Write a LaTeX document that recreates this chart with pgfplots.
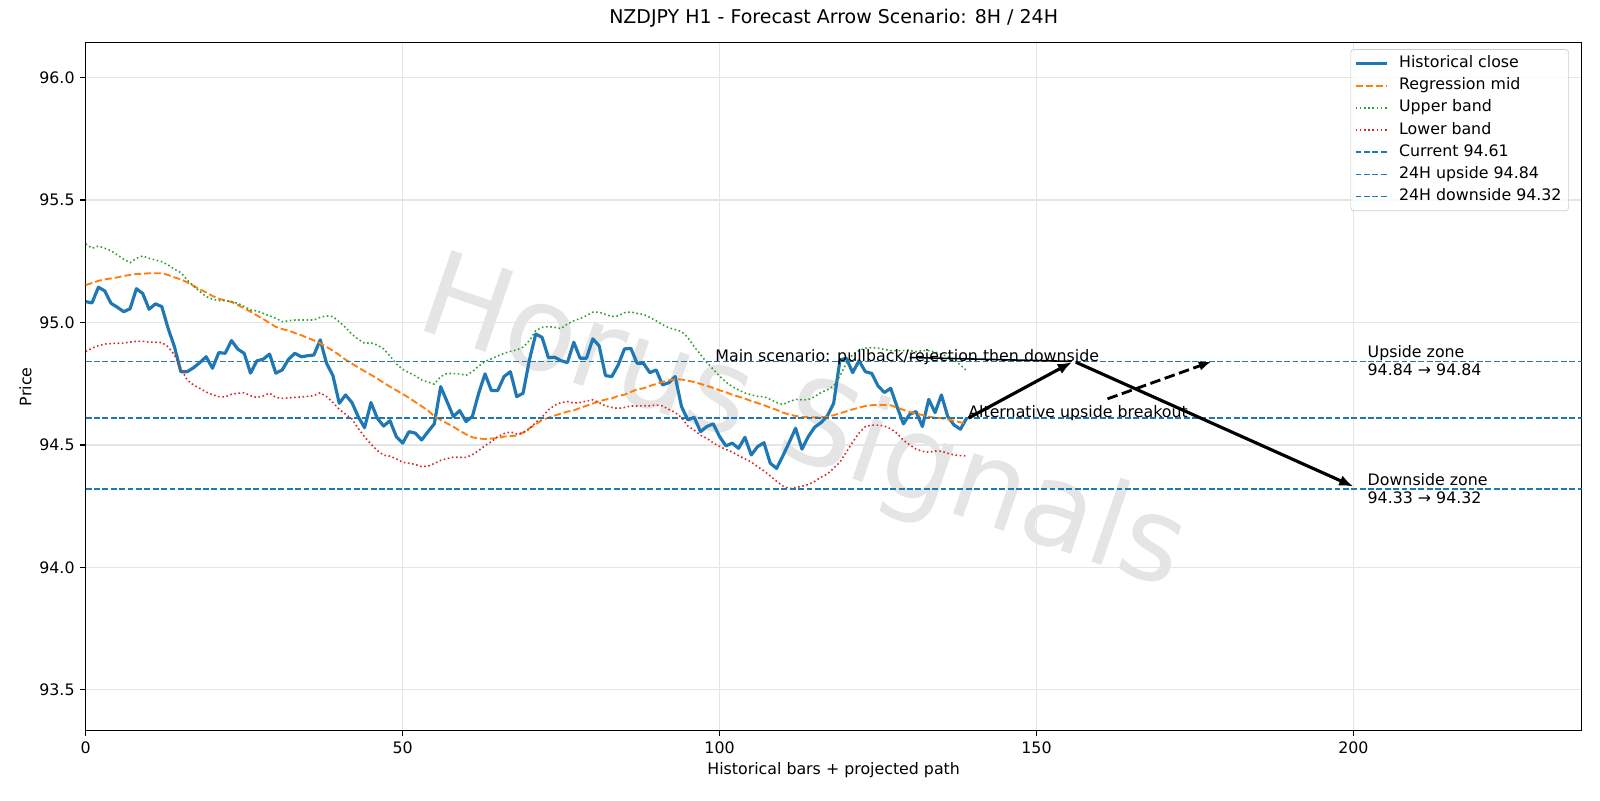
\documentclass[border=0pt]{standalone}
\usepackage{pgfplots}
\pgfplotsset{compat=1.18}
\usepackage{pgfplotstable}
\usepackage{fontspec}
\setmainfont{DejaVu Sans}
\usetikzlibrary{arrows.meta}
\definecolor{tabblue}{HTML}{1F77B4}
\definecolor{taborange}{HTML}{FF7F0E}
\definecolor{tabgreen}{HTML}{2CA02C}
\definecolor{tabred}{HTML}{D62728}

\pgfplotstableread{
i close mid upper lower
0 95.085 95.153 95.321 94.881
1 95.080 95.161 95.303 94.895
2 95.144 95.170 95.312 94.905
3 95.129 95.176 95.303 94.912
4 95.078 95.180 95.293 94.914
5 95.062 95.184 95.276 94.915
6 95.044 95.190 95.258 94.916
7 95.056 95.194 95.244 94.920
8 95.138 95.198 95.262 94.923
9 95.118 95.199 95.272 94.923
10 95.054 95.201 95.262 94.920
11 95.076 95.201 95.255 94.919
12 95.065 95.201 95.248 94.918
13 94.976 95.194 95.235 94.901
14 94.901 95.184 95.217 94.867
15 94.799 95.176 95.204 94.813
16 94.799 95.164 95.174 94.765
17 94.815 95.150 95.149 94.745
18 94.836 95.135 95.126 94.731
19 94.860 95.123 95.106 94.716
20 94.813 95.108 95.095 94.705
21 94.877 95.097 95.089 94.697
22 94.874 95.090 95.089 94.696
23 94.926 95.084 95.085 94.707
24 94.891 95.071 95.078 94.711
25 94.874 95.058 95.065 94.713
26 94.793 95.044 95.051 94.701
27 94.843 95.029 95.047 94.694
28 94.850 95.014 95.037 94.700
29 94.871 94.998 95.027 94.711
30 94.793 94.982 95.017 94.694
31 94.806 94.973 95.003 94.690
32 94.850 94.967 95.007 94.692
33 94.874 94.957 95.010 94.694
34 94.860 94.948 95.010 94.696
35 94.864 94.937 95.010 94.698
36 94.867 94.927 95.010 94.701
37 94.929 94.915 95.021 94.713
38 94.833 94.900 95.027 94.697
39 94.783 94.885 95.024 94.673
40 94.670 94.867 95.003 94.645
41 94.704 94.848 94.979 94.625
42 94.673 94.832 94.952 94.606
43 94.615 94.816 94.931 94.567
44 94.570 94.801 94.915 94.533
45 94.673 94.786 94.917 94.503
46 94.609 94.771 94.908 94.477
47 94.577 94.754 94.892 94.458
48 94.599 94.738 94.863 94.454
49 94.534 94.723 94.831 94.443
50 94.507 94.708 94.809 94.429
51 94.554 94.692 94.795 94.425
52 94.548 94.675 94.782 94.420
53 94.520 94.658 94.765 94.411
54 94.554 94.640 94.757 94.413
55 94.586 94.617 94.748 94.424
56 94.738 94.602 94.779 94.437
57 94.677 94.588 94.792 94.444
58 94.616 94.574 94.791 94.450
59 94.640 94.558 94.790 94.449
60 94.595 94.543 94.784 94.449
61 94.616 94.531 94.799 94.460
62 94.711 94.526 94.822 94.477
63 94.790 94.524 94.840 94.497
64 94.722 94.526 94.852 94.513
65 94.722 94.528 94.863 94.534
66 94.779 94.534 94.874 94.546
67 94.799 94.536 94.882 94.553
68 94.697 94.538 94.888 94.545
69 94.711 94.550 94.899 94.549
70 94.847 94.568 94.926 94.565
71 94.953 94.584 94.967 94.592
72 94.939 94.602 94.980 94.614
73 94.856 94.611 94.983 94.643
74 94.858 94.620 94.980 94.662
75 94.844 94.628 94.975 94.673
76 94.836 94.636 94.994 94.677
77 94.919 94.641 95.007 94.671
78 94.854 94.651 95.016 94.673
79 94.854 94.660 95.028 94.679
80 94.933 94.669 95.042 94.684
81 94.905 94.678 95.042 94.673
82 94.783 94.685 95.033 94.659
83 94.779 94.690 95.024 94.653
84 94.826 94.700 95.027 94.649
85 94.892 94.705 95.040 94.653
86 94.894 94.716 95.043 94.659
87 94.833 94.727 95.037 94.659
88 94.833 94.731 95.033 94.660
89 94.795 94.741 95.021 94.660
90 94.806 94.749 95.007 94.663
91 94.745 94.757 94.991 94.659
92 94.754 94.764 94.978 94.645
93 94.779 94.768 94.971 94.632
94 94.656 94.767 94.963 94.611
95 94.602 94.762 94.938 94.577
96 94.613 94.757 94.901 94.560
97 94.554 94.749 94.869 94.539
98 94.575 94.741 94.836 94.527
99 94.586 94.733 94.809 94.508
100 94.534 94.723 94.781 94.494
101 94.496 94.715 94.757 94.481
102 94.507 94.705 94.738 94.471
103 94.486 94.697 94.724 94.456
104 94.531 94.689 94.712 94.443
105 94.459 94.679 94.705 94.430
106 94.493 94.671 94.698 94.411
107 94.509 94.662 94.697 94.394
108 94.425 94.652 94.686 94.373
109 94.404 94.643 94.673 94.351
110 94.456 94.632 94.665 94.332
111 94.511 94.624 94.677 94.321
112 94.568 94.618 94.686 94.326
113 94.483 94.614 94.684 94.331
114 94.534 94.613 94.685 94.338
115 94.572 94.613 94.697 94.351
116 94.591 94.613 94.714 94.368
117 94.618 94.615 94.725 94.381
118 94.670 94.621 94.741 94.405
119 94.847 94.629 94.782 94.430
120 94.854 94.637 94.833 94.471
121 94.795 94.645 94.869 94.511
122 94.844 94.652 94.885 94.549
123 94.799 94.659 94.895 94.575
124 94.792 94.662 94.897 94.581
125 94.741 94.663 94.895 94.581
126 94.714 94.663 94.890 94.577
127 94.731 94.662 94.885 94.566
128 94.656 94.652 94.885 94.547
129 94.586 94.643 94.885 94.519
130 94.625 94.635 94.885 94.500
131 94.636 94.628 94.881 94.483
132 94.575 94.622 94.885 94.474
133 94.686 94.615 94.885 94.470
134 94.632 94.611 94.879 94.475
135 94.704 94.609 94.870 94.474
136 94.616 94.604 94.860 94.466
137 94.581 94.599 94.847 94.459
138 94.564 94.592 94.826 94.456
139 94.610 94.588 94.803 94.455
}\datatable

\begin{document}
\begin{tikzpicture}
\path[use as bounding box] (-0.750in,-0.607in) rectangle (13.25in,6.393in);
\begin{axis}[
  at={(0,0)}, anchor=south west, scale only axis,
  width=13.089in, height=6.018in,
  xmin=0, xmax=236, ymin=93.333, ymax=96.142,
  xtick={0,50,100,150,200},
  ytick={93.5,94,94.5,95,95.5,96},
  /pgf/number format/assume math mode=true,
  yticklabel style={/pgf/number format/.cd, fixed, fixed zerofill, precision=1},
  every tick label/.append style={font=\fontsize{10}{12}\selectfont},
  tick align=outside, tick pos=left, major tick length=3.5pt,
  tick style={black, line width=0.8pt},
  axis line style={line width=0.8pt},
  grid=major, grid style={gray!20, line width=0.8pt},
  title={NZDJPY H1 - Forecast Arrow Scenario: 8H / 24H},
  title style={at={(axis description cs:0.5,1)}, anchor=base, yshift=6pt, inner sep=0pt, font=\fontsize{12}{14}\selectfont},
  xlabel={Historical bars + projected path},
  xlabel style={at={(axis description cs:0.5,-0.0577)}, anchor=center, inner sep=0pt, font=\fontsize{10}{12}\selectfont},
  ylabel={Price},
  ylabel style={at={(axis description cs:-0.0402,0.5)}, anchor=center, inner sep=0pt, font=\fontsize{10}{12}\selectfont},
  legend image code/.code={\draw[#1] (0pt,0pt) -- (20pt,0pt); \path (24pt,0pt);},
  legend cell align=left,
  legend style={at={(rel axis cs:1,1)}, anchor=north east, xshift=-8pt, yshift=-4pt,
    draw=black!20, fill=white, fill opacity=0.8, text opacity=1, rounded corners=2pt,
    font=\fontsize{10}{12}\selectfont, inner xsep=2pt, inner ysep=3pt, row sep=2pt,
    nodes={inner ysep=1pt, inner xsep=2.5pt, text height=7.5pt, text depth=2.5pt}},
  clip=true,
]
% watermark
\node[rotate=-19, font=\fontsize{74}{80}\selectfont, text=black!10] at (axis cs:113,94.57) {Horus Signals};

\addplot[tabblue, line width=2pt, line join=round] table[x=i, y=close]{\datatable};
\addlegendentry{Historical close}
\addplot[taborange, line width=1.2pt, dash pattern=on 4.4pt off 1.9pt] table[x=i, y=mid]{\datatable};
\addlegendentry{Regression mid}
\addplot[tabgreen, line width=1pt, dash pattern=on 1pt off 1.65pt] table[x=i, y=upper]{\datatable};
\addlegendentry{Upper band}
\addplot[tabred, line width=1pt, dash pattern=on 1pt off 1.65pt] table[x=i, y=lower]{\datatable};
\addlegendentry{Lower band}
\addplot[tabblue, line width=1pt, dash pattern=on 3.7pt off 1.6pt] coordinates {(0,94.61) (236,94.61)};
\addlegendentry{Current 94.61}
\addplot[tabblue, line width=1pt, dash pattern=on 3.7pt off 1.6pt] coordinates {(0,94.84) (236,94.84)};
\addlegendentry{24H upside 94.84}
\addplot[tabblue, line width=1pt, dash pattern=on 3.7pt off 1.6pt] coordinates {(0,94.32) (236,94.32)};
\addlegendentry{24H downside 94.32}

% arrows
\addplot[forget plot, black, line width=1pt] coordinates {(130,94.857) (155.5,94.841)};
\addplot[forget plot, black, line width=2pt, -{Latex[length=9pt,width=7pt]}] coordinates {(139.3,94.61) (155.6,94.838)};
\addplot[forget plot, black, line width=2pt, -{Latex[length=9pt,width=7pt]}] coordinates {(156.2,94.838) (200,94.33)};
\addplot[forget plot, black, line width=1.8pt, dash pattern=on 6.7pt off 2.9pt, -{Latex[length=8pt,width=6pt]}] coordinates {(161.2,94.688) (177.6,94.84)};

\node[anchor=base west, inner sep=0pt, font=\fontsize{10}{12}\selectfont] at (axis cs:99.3,94.842) {Main scenario: pullback/rejection then downside};
\node[anchor=base west, inner sep=0pt, font=\fontsize{10}{12}\selectfont] at (axis cs:139.2,94.612) {Alternative upside breakout};
\node[anchor=west, align=left, inner sep=0pt, font=\fontsize{10}{11}\selectfont] at (axis cs:202.2,94.845) {Upside zone\\94.84 → 94.84};
\node[anchor=west, align=left, inner sep=0pt, font=\fontsize{10}{11}\selectfont] at (axis cs:202.2,94.322) {Downside zone\\94.33 → 94.32};
\end{axis}
\end{tikzpicture}
\end{document}
